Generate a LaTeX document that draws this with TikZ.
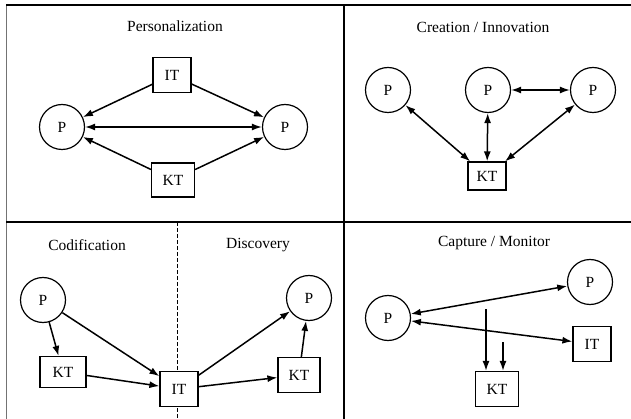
\documentclass[tikz,border=0pt]{standalone}
\usepackage{fontspec}
\setmainfont{Liberation Serif}
\usepackage{tikz}
\usetikzlibrary{arrows.meta}
\colorlet{framegray}{black!55}

\begin{document}
\begin{tikzpicture}[x=1pt,y=-1pt,
    every node/.style={font=\fontsize{15.5}{18}\selectfont},
    pnode/.style={draw,circle,line width=1.2pt,minimum size=45pt,inner sep=0pt,fill=white},
    tnode/.style={draw,rectangle,line width=1.2pt,minimum width=38pt,minimum height=35pt,inner sep=0pt,fill=white},
    link/.style={line width=1.5pt,-{Latex[length=10pt,width=7pt]}},
    dlink/.style={line width=1.5pt,{Latex[length=10pt,width=7pt]}-{Latex[length=10pt,width=7pt]}}]
    \useasboundingbox (0,0) rectangle (631,419);
    \draw[framegray, line width=0.8pt] (6,5) -- (6,419);
    \draw[line width=1.8pt] (6,5) -- (631,5);
    \draw[line width=1.8pt] (6,222) -- (631,222);
    \draw[line width=1.4pt] (344,5) -- (344,419);
    \draw[line width=1pt, dash pattern=on 4pt off 2pt] (177,222) -- (177,419);

    \node (pers) at (175,26) {Personalization};
    \node (crea) at (483,27) {Creation / Innovation};
    \node (codi) at (87,245) {Codification};
    \node (disc) at (258,245) {Discovery};
    \node (capt) at (494,243) {Capture / Monitor};

    \node[tnode] (itA) at (172,75) {IT};
    \node[tnode, minimum width=43pt, minimum height=34pt] (ktA) at (173,180) {KT};
    \node[pnode] (pA1) at (62,127) {P};
    \node[pnode] (pA2) at (285,127) {P};
    \draw[link] (itA) -- (pA1);
    \draw[link] (itA) -- (pA2);
    \draw[link] (ktA) -- (pA1);
    \draw[link] (ktA) -- (pA2);
    \draw[dlink] (pA1) -- (pA2);

    \foreach \n/\x in {1/388,2/488,3/593}
      \node[pnode] (pB\n) at (\x,90) {P};
    \node[tnode, minimum height=28pt] (ktB) at (487,176) {KT};
    \foreach \n in {1,2,3}
      \draw[dlink] (pB\n) -- (ktB);
    \draw[dlink] (pB2) -- (pB3);

    \node[pnode] (pC1) at (43,300) {P};
    \node[tnode, minimum width=46pt, minimum height=31pt] (ktC1) at (63,372) {KT};
    \node[tnode] (itC) at (179,389) {IT};
    \node[tnode, minimum width=42pt] (ktC2) at (299,375) {KT};
    \node[pnode] (pC2) at (309,298) {P};
    \draw[link] (pC1) -- (ktC1);
    \draw[link] (pC1) -- (itC);
    \draw[link] (ktC1) -- (itC);
    \draw[link] (itC) -- (pC2);
    \draw[link] (itC) -- (ktC2);
    \draw[link] (ktC2) -- (pC2);

    \node[pnode] (pD1) at (388,318) {P};
    \node[pnode] (pD2) at (590,282) {P};
    \node[tnode] (itD) at (592,344) {IT};
    \node[tnode, minimum width=43pt] (ktD) at (497,389) {KT};
    \coordinate (inD1) at (486,309);
    \coordinate (inD2) at (503,342);
    \draw[dlink] (pD1) -- (pD2);
    \draw[dlink] (pD1) -- (itD);
    \draw[link] (inD1) -- (inD1 |- ktD.north);
    \draw[link] (inD2) -- (inD2 |- ktD.north);
\end{tikzpicture}
\end{document}
